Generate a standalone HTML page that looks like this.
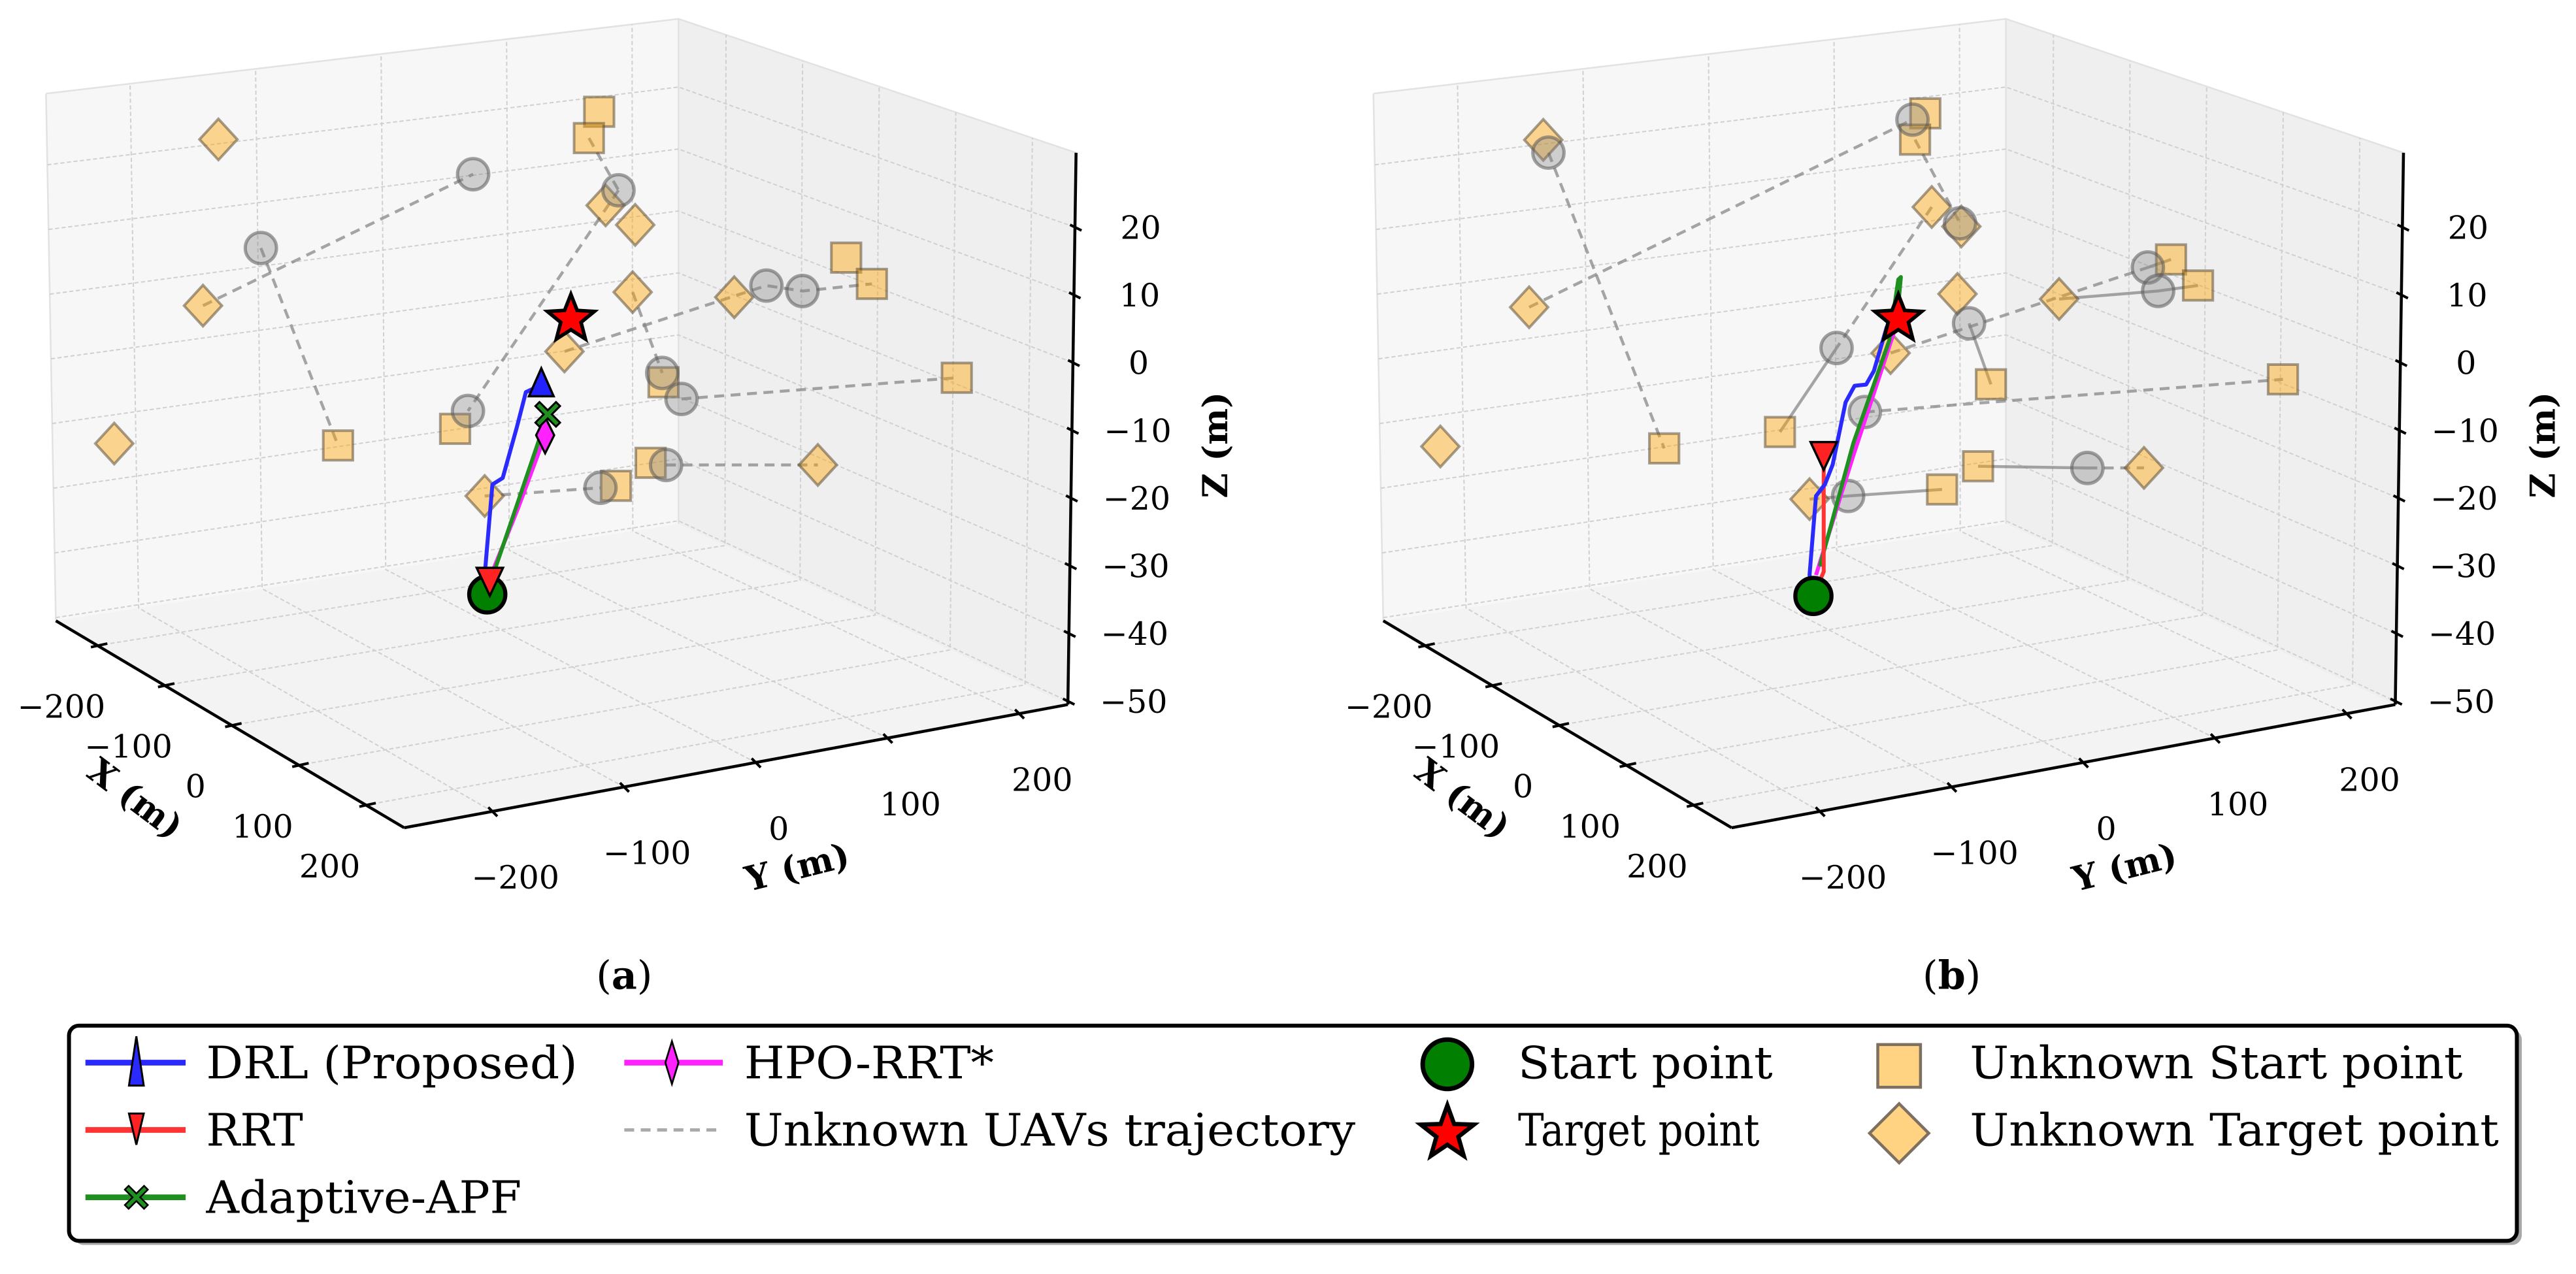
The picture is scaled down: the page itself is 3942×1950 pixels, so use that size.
<!DOCTYPE html>
<html><head><meta charset="utf-8">
<style>
html,body{margin:0;padding:0;background:#fff;}
svg{display:block;}
text{font-family:"DejaVu Serif","Liberation Serif",serif;}
</style></head>
<body>
<svg id="fig" xmlns="http://www.w3.org/2000/svg" width="3942" height="1950" viewBox="0 0 1568 775.7" preserveAspectRatio="none">
<rect x="0" y="0" width="1568" height="776" fill="#fff"/>
<g id="panelA"></g>
<g id="panelB" transform="translate(808,0)"></g>
<text x="380" y="602" font-size="24" text-anchor="middle">(<tspan font-weight="bold">a</tspan>)</text>
<text x="1188" y="602" font-size="24" text-anchor="middle">(<tspan font-weight="bold">b</tspan>)</text>
<g id="legend"></g>
</svg>
<script>
// ---- axis ranges and ticks ----
const xRange = [-262, 257];
const yRange = [-267, 237];
const zRange = [-50.5, 31];
const xyTicks = [-200, -100, 0, 100, 200];
const zTicks = [-50, -40, -30, -20, -10, 0, 10, 20];

// ---- panel (a) data: [y, z] pairs at x = 0 ----
const aSquares = [[37,30.6],[29,27.0],[229,3.0],[249,-1.5],[315,-17.4],[87,-10.7],[-75,-12.3],[-166,-11.8],[77,-22.2],[50,-24.7]];
const aDiamonds = [[-259,36.1],[42,16.7],[65,13.1],[-271,12.1],[63,3.3],[142,0],[10,-3.7],[-340,-5.9],[207,-26.7],[-52,-22.9]];
const aCircles = [[-61,24.6],[52,18.6],[-226,19.1],[167,0.9],[195,-0.8],[86,-9.3],[101,-13.6],[-65,-10.0],[89,-22.9],[38,-24.6]];
const aStart = [-50, -37.4];
const aTarget = [15, 0.9];
const aDRL = [[-50,-37.4],[-52,-34.5],[-46,-21.4],[-38,-20.7],[-27,-13.6],[-20,-8.7],[-8,-8.0]];
const aRRT = [[-50,-37.4],[-48,-35.5]];
const aAPF = [[-49,-36.5],[-25,-24],[-3,-12.5]];
const aHPO = [[-46,-34.2],[-26,-25.5],[-5,-15.5]];
const aTrajDashed = [['d3','c0'],['c2','s7'],['s1','c1'],['c1','c7'],['d6','c3','c4','s3'],['d4','c5'],['c6','s4'],['c8','d8'],['d9','c9']];
const aTrajSolid = [];

// ---- panel (b) data ----
const bSquares = [[36,30.4],[28,26.8],[227,2.8],[248,-1.7],[314,-17.6],[87,-11.0],[-77,-12.7],[-167,-12.2],[77,-22.7],[49,-25.2]];
const bDiamonds = [[-261,36.1],[41,16.5],[64,12.9],[-272,11.9],[61,3.1],[140,-0.2],[9,-3.9],[-341,-6.3],[206,-27.1],[-54,-23.3]];
const bCircles = [[26,29.8],[-257,34.1],[63,13.4],[209,2.2],[217,-1.5],[70,-1.5],[-33,-1.8],[-11,-11.9],[162,-25.7],[-24,-23.8]];
const bStart = [-51, -37.6];
const bTarget = [15, 0.9];
const bDRL = [[-51,-37.6],[-54,-34.4],[-49,-23.0],[-42,-21.5],[-36,-18.8],[-26,-10.0],[-19,-7.8],[-10,-7.9],[-4,-6.1],[6,0],[15,0.9]];
const bRRT = [[-51,-37.6],[-43,-34.3],[-43,-17.2]];
const bAPF = [[-46,-33.4],[-20,-16.2],[8,-2],[15,6.7],[17,7],[15,3],[11,0.8]];
const bHPO = [[-49,-34.6],[-20,-18],[13,-0.2]];
const bTrajDashed = [['d3','c0'],['c1','s7'],['s1','c2'],['d1','c6'],['d6','c3'],['c7','s4'],['c8','d8'],['d9','c9']];
const bTrajSolid = [['c6','s6'],['c3','s2'],['d5','c4','s3'],['c5','s5'],['s8','c8'],['c9','s9']];

const NS = 'http://www.w3.org/2000/svg';
function mk(tag, attrs, parent) {
  const e = document.createElementNS(NS, tag);
  for (const k in attrs) e.setAttribute(k, attrs[k]);
  if (parent) parent.appendChild(e);
  return e;
}

function proj(y, z) {
  const x = 0;
  return [335.75 + 0.449 * x + 0.783 * y, 200 + 0.236 * x - 0.134 * y - 4.15 * z];
}

const FL = {c00:[34,378], c10:[246,504], c11:[650,429], c01:[413,319]};
const TP = {c00:[28,57], c10:[250,150], c11:[655,93], c01:[413,11.5]};
function bil(Q, fx, fy) {
  const a = (1-fx)*(1-fy), b = fx*(1-fy), c = fx*fy, d = (1-fx)*fy;
  return [a*Q.c00[0]+b*Q.c10[0]+c*Q.c11[0]+d*Q.c01[0], a*Q.c00[1]+b*Q.c10[1]+c*Q.c11[1]+d*Q.c01[1]];
}
function boxPt(x, y, z) {
  const fx = (x - xRange[0])/(xRange[1]-xRange[0]);
  const fy = (y - yRange[0])/(yRange[1]-yRange[0]);
  const fz = (z - zRange[0])/(zRange[1]-zRange[0]);
  const p0 = bil(FL, fx, fy), p1 = bil(TP, fx, fy);
  return [p0[0] + (p1[0]-p0[0])*fz, p0[1] + (p1[1]-p0[1])*fz];
}
function pts(arr) { return arr.map(p => p[0].toFixed(2)+','+p[1].toFixed(2)).join(' '); }

function starPts(cx, cy, ro, ri) {
  const a = [];
  for (let i = 0; i < 10; i++) {
    const r = i % 2 ? ri : ro, ang = -Math.PI/2 + i*Math.PI/5;
    a.push([cx + r*Math.cos(ang), cy + r*Math.sin(ang)]);
  }
  return a;
}
function xPts(cx, cy, s) {
  const t = s*0.33, o = [];
  const base = [[-s,-s+t],[-s+t,-s],[0,-t],[s-t,-s],[s,-s+t],[t,0],[s,s-t],[s-t,s],[0,t],[-s+t,s],[-s,s-t],[-t,0]];
  base.forEach(p => o.push([cx+p[0], cy+p[1]]));
  return o;
}

function drawMarker(g, kind, cx, cy, name) {
  let e;
  if (kind === 'square') {
    e = mk('rect', {x:cx-9, y:cy-9, width:18, height:18, fill:'rgba(255,165,0,0.42)', stroke:'rgba(80,65,45,0.5)', 'stroke-width':1.6}, g);
  } else if (kind === 'diamond') {
    e = mk('polygon', {points:pts([[cx,cy-12.5],[cx+11.5,cy],[cx,cy+12.5],[cx-11.5,cy]]), fill:'rgba(255,165,0,0.42)', stroke:'rgba(80,65,45,0.5)', 'stroke-width':1.6}, g);
  } else if (kind === 'circle') {
    e = mk('circle', {cx:cx, cy:cy, r:9.5, fill:'rgba(128,128,128,0.35)', stroke:'rgba(90,90,90,0.55)', 'stroke-width':2}, g);
  } else if (kind === 'start') {
    e = mk('circle', {cx:cx, cy:cy, r:11, fill:'#007f00', stroke:'#000', 'stroke-width':2.5}, g);
  } else if (kind === 'star') {
    e = mk('polygon', {points:pts(starPts(cx, cy, 15, 6.5)), fill:'#ff0000', stroke:'#000', 'stroke-width':2.2, 'stroke-linejoin':'miter'}, g);
  } else if (kind === 'tri-up') {
    e = mk('polygon', {points:pts([[cx,cy-10],[cx+7.5,cy+7],[cx-7.5,cy+7]]), fill:'#2222ff', stroke:'#000', 'stroke-width':1.4}, g);
  } else if (kind === 'tri-down') {
    e = mk('polygon', {points:pts([[cx-8,cy-8],[cx+8,cy-8],[cx,cy+9]]), fill:'#ff2222', stroke:'#000', 'stroke-width':1.4}, g);
  } else if (kind === 'x') {
    e = mk('polygon', {points:pts(xPts(cx, cy, 7.5)), fill:'#1f8f1f', stroke:'#000', 'stroke-width':1.2}, g);
  } else if (kind === 'thin-diamond') {
    e = mk('polygon', {points:pts([[cx,cy-11],[cx+5.5,cy],[cx,cy+11],[cx-5.5,cy]]), fill:'#ff22ff', stroke:'#000', 'stroke-width':1.3}, g);
  }
  
  
  return e;
}

function drawAxes(g) {
  const X0 = xRange[0], X1 = xRange[1], Y0 = yRange[0], Y1 = yRange[1], Z0 = zRange[0], Z1 = zRange[1];
  const leftPane = mk('polygon', {points:pts([boxPt(X0,Y0,Z0), boxPt(X0,Y1,Z0), boxPt(X0,Y1,Z1), boxPt(X0,Y0,Z1)]), fill:'#f7f7f7'}, g);
  
  
  const rightPane = mk('polygon', {points:pts([boxPt(X0,Y1,Z0), boxPt(X1,Y1,Z0), boxPt(X1,Y1,Z1), boxPt(X0,Y1,Z1)]), fill:'#efefef'}, g);
  
  
  const floor = mk('polygon', {points:pts([boxPt(X0,Y0,Z0), boxPt(X1,Y0,Z0), boxPt(X1,Y1,Z0), boxPt(X0,Y1,Z0)]), fill:'#f3f3f3'}, g);
  
  
  const edgeStyle = {stroke:'#e2e2e2', 'stroke-width':1, fill:'none'};
  mk('polyline', Object.assign({points:pts([boxPt(X0,Y0,Z1), boxPt(X0,Y1,Z1), boxPt(X1,Y1,Z1)])}, edgeStyle), g);
  mk('polyline', Object.assign({points:pts([boxPt(X0,Y0,Z1), boxPt(X0,Y0,Z0)])}, edgeStyle), g);
  mk('polyline', Object.assign({points:pts([boxPt(X0,Y1,Z1), boxPt(X0,Y1,Z0)])}, edgeStyle), g);
  const gs = {stroke:'#d0d0d0', 'stroke-width':0.8, 'stroke-dasharray':'2.5 1.5', fill:'none'};
  const grid = mk('g', {}, g);
  
  
  xyTicks.forEach(v => {
    mk('polyline', Object.assign({points:pts([boxPt(v,Y0,Z0), boxPt(v,Y1,Z0), boxPt(v,Y1,Z1)])}, gs), grid);
    mk('polyline', Object.assign({points:pts([boxPt(X1,v,Z0), boxPt(X0,v,Z0), boxPt(X0,v,Z1)])}, gs), grid);
  });
  zTicks.forEach(v => {
    mk('polyline', Object.assign({points:pts([boxPt(X0,Y0,v), boxPt(X0,Y1,v), boxPt(X1,Y1,v)])}, gs), grid);
  });
  const ax = mk('line', {x1:boxPt(X0,Y0,Z0)[0], y1:boxPt(X0,Y0,Z0)[1], x2:boxPt(X1,Y0,Z0)[0], y2:boxPt(X1,Y0,Z0)[1], stroke:'#000', 'stroke-width':1.8}, g);
  
  
  const ay = mk('line', {x1:boxPt(X1,Y0,Z0)[0], y1:boxPt(X1,Y0,Z0)[1], x2:boxPt(X1,Y1,Z0)[0], y2:boxPt(X1,Y1,Z0)[1], stroke:'#000', 'stroke-width':1.8}, g);
  
  
  const az = mk('line', {x1:boxPt(X1,Y1,Z0)[0], y1:boxPt(X1,Y1,Z0)[1], x2:boxPt(X1,Y1,Z1)[0], y2:boxPt(X1,Y1,Z1)[1], stroke:'#000', 'stroke-width':1.8}, g);
  
  
  xyTicks.forEach(v => {
    const p = boxPt(v, Y0, Z0);
    mk('line', {x1:p[0]-4, y1:p[1]+1, x2:p[0]+6, y2:p[1]-1.2, stroke:'#000', 'stroke-width':1.6}, g);
    const t = mk('text', {x:p[0]-22, y:p[1]+44, 'font-size':19.5, 'text-anchor':'middle'}, g);
    t.textContent = v < 0 ? '\u2212' + Math.abs(v) : String(v);
    
    
  });
  xyTicks.forEach(v => {
    const p = boxPt(X1, v, Z0);
    mk('line', {x1:p[0]-2.5, y1:p[1]-2.5, x2:p[0]+3, y2:p[1]+3, stroke:'#000', 'stroke-width':1.6}, g);
    const t = mk('text', {x:p[0]+14, y:p[1]+47, 'font-size':19.5, 'text-anchor':'middle'}, g);
    t.textContent = v < 0 ? '\u2212' + Math.abs(v) : String(v);
    
    
  });
  zTicks.forEach(v => {
    const p = boxPt(X1, Y1, v);
    mk('line', {x1:p[0]-3, y1:p[1]-1.5, x2:p[0]+4, y2:p[1]+2, stroke:'#000', 'stroke-width':1.6}, g);
    const t = mk('text', {x:p[0]+40, y:p[1]+7, 'font-size':19.5, 'text-anchor':'middle'}, g);
    t.textContent = v < 0 ? '\u2212' + Math.abs(v) : String(v);
    
    
  });
  const xt = mk('text', {x:0, y:0, 'font-size':21, 'font-weight':'bold', 'text-anchor':'middle', transform:'translate(78,492) rotate(37)'}, g);
  xt.textContent = 'X (m)';
  
  
  const yt = mk('text', {x:0, y:0, 'font-size':21, 'font-weight':'bold', 'text-anchor':'middle', transform:'translate(487,535) rotate(-14)'}, g);
  yt.textContent = 'Y (m)';
  
  
  const zt = mk('text', {x:0, y:0, 'font-size':21, 'font-weight':'bold', 'text-anchor':'middle', transform:'translate(747,271) rotate(-90)'}, g);
  zt.textContent = 'Z (m)';
  
  
}

function drawPanel(g, D) {
  drawAxes(g);
  const lookup = (ref) => {
    const i = +ref.slice(1);
    const arr = ref[0] === 's' ? D.squares : ref[0] === 'd' ? D.diamonds : D.circles;
    return proj(arr[i][0], arr[i][1]);
  };
  D.dashed.forEach(tr => {
    const l = mk('polyline', {points:pts(tr.map(lookup)), fill:'none', stroke:'rgba(128,128,128,0.7)', 'stroke-width':1.8, 'stroke-dasharray':'6 4'}, g);
    
    
  });
  D.solid.forEach(tr => {
    const l = mk('polyline', {points:pts(tr.map(lookup)), fill:'none', stroke:'rgba(128,128,128,0.7)', 'stroke-width':1.8}, g);
    
    
  });
  D.squares.forEach(p => { const q = proj(p[0], p[1]); drawMarker(g, 'square', q[0], q[1], 'unknown-start-point'); });
  D.diamonds.forEach(p => { const q = proj(p[0], p[1]); drawMarker(g, 'diamond', q[0], q[1], 'unknown-target-point'); });
  D.circles.forEach(p => { const q = proj(p[0], p[1]); drawMarker(g, 'circle', q[0], q[1], 'unknown-uav-position'); });
  const series = [
    {d:D.hpo, c:'#ff22ff', m:'thin-diamond', n:'hpo-rrt-star'},
    {d:D.apf, c:'#1f8f1f', m:'x', n:'adaptive-apf'},
    {d:D.rrt, c:'#ff3333', m:'tri-down', n:'rrt'},
    {d:D.drl, c:'#2a2aff', m:'tri-up', n:'drl-proposed'}
  ];
  series.forEach(s => {
    const l = mk('polyline', {points:pts(s.d.map(p => proj(p[0], p[1]))), fill:'none', stroke:s.c, 'stroke-width':2.4, 'stroke-linejoin':'round'}, g);
    
    
  });
  const st = proj(D.start[0], D.start[1]);
  drawMarker(g, 'start', st[0], st[1], 'start-point');
  series.forEach(s => {
    if (D.endMarkers.indexOf(s.n) < 0) return;
    const e = s.d[s.d.length - 1];
    const q = proj(e[0], e[1]);
    drawMarker(g, s.m, q[0], q[1], s.n + '-end-marker');
  });
  const tg = proj(D.target[0], D.target[1]);
  drawMarker(g, 'star', tg[0], tg[1], 'target-point');
}

drawPanel(document.getElementById('panelA'), {squares:aSquares, diamonds:aDiamonds, circles:aCircles, start:aStart, target:aTarget, drl:aDRL, rrt:aRRT, apf:aAPF, hpo:aHPO, dashed:aTrajDashed, solid:aTrajSolid, endMarkers:['drl-proposed','rrt','adaptive-apf','hpo-rrt-star']});
drawPanel(document.getElementById('panelB'), {squares:bSquares, diamonds:bDiamonds, circles:bCircles, start:bStart, target:bTarget, drl:bDRL, rrt:bRRT, apf:bAPF, hpo:bHPO, dashed:bTrajDashed, solid:bTrajSolid, endMarkers:['rrt']});

(function(){
  const L = document.getElementById('legend');
  mk('rect', {x:45, y:627, width:1490, height:131, rx:6, fill:'#a8a8a8'}, L);
  const box = mk('rect', {x:42, y:624.5, width:1490, height:131, rx:6, fill:'#fff', stroke:'#000', 'stroke-width':2.4}, L);
  
  
  function entry(x, y, label, tlen, name, drawFn) {
    const g = mk('g', {}, L);
    
    
    drawFn(g);
    const t = mk('text', {x:x, y:y + 9.5, 'font-size':27, textLength:tlen, lengthAdjust:'spacingAndGlyphs'}, g);
    t.textContent = label;
  }
  const line = (g, x1, x2, y, c, dash) => mk('line', {x1:x1, y1:y, x2:x2, y2:y, stroke:c, 'stroke-width':dash ? 2 : 3.5, 'stroke-dasharray':dash || 'none'}, g);
  entry(125.5, 647, 'DRL (Proposed)', 226, 'legend-entry-drl', g => { line(g, 52, 113, 647, '#2a2aff'); mk('polygon', {points:pts([[83,631],[87.5,661],[78.5,661]]), fill:'#2a2aff', stroke:'#000', 'stroke-width':1.2}, g); });
  entry(125.5, 688, 'RRT', 59, 'legend-entry-rrt', g => { line(g, 52, 113, 688, '#ff3333'); mk('polygon', {points:pts([[78.5,678],[87.5,678],[83,697]]), fill:'#ff2222', stroke:'#000', 'stroke-width':1.2}, g); });
  entry(125.5, 729, 'Adaptive-APF', 192, 'legend-entry-adaptive-apf', g => { line(g, 52, 113, 729, '#1f8f1f'); mk('polygon', {points:pts(xPts(83, 729, 7)), fill:'#1f8f1f', stroke:'#000', 'stroke-width':1}, g); });
  entry(453, 647, 'HPO-RRT*', 152, 'legend-entry-hpo-rrt-star', g => { line(g, 380, 440, 647, '#ff22ff'); mk('polygon', {points:pts([[409,634],[413,647],[409,660],[405,647]]), fill:'#ff22ff', stroke:'#000', 'stroke-width':1.1}, g); });
  entry(453, 688, 'Unknown UAVs trajectory', 372, 'legend-entry-unknown-trajectory', g => { line(g, 380, 440, 688, '#aaaaaa', '6 4'); });
  entry(924, 647, 'Start point', 155, 'legend-entry-start-point', g => { mk('circle', {cx:881, cy:648, r:15, fill:'#007f00', stroke:'#000', 'stroke-width':2.8}, g); });
  entry(924, 688, 'Target point', 147, 'legend-entry-target-point', g => { mk('polygon', {points:pts(starPts(881, 690, 17, 7)), fill:'#ff0000', stroke:'#000', 'stroke-width':2.6}, g); });
  entry(1199, 647, 'Unknown Start point', 300, 'legend-entry-unknown-start', g => { mk('rect', {x:1143, y:636, width:26, height:26, fill:'#ffd382', stroke:'#7d7060', 'stroke-width':1.8}, g); });
  entry(1199, 688, 'Unknown Target point', 322, 'legend-entry-unknown-target', g => { mk('polygon', {points:pts([[1156,672],[1174,690],[1156,708],[1138,690]]), fill:'#ffd382', stroke:'#7d7060', 'stroke-width':1.8}, g); });
})();
</script>
</body></html>
